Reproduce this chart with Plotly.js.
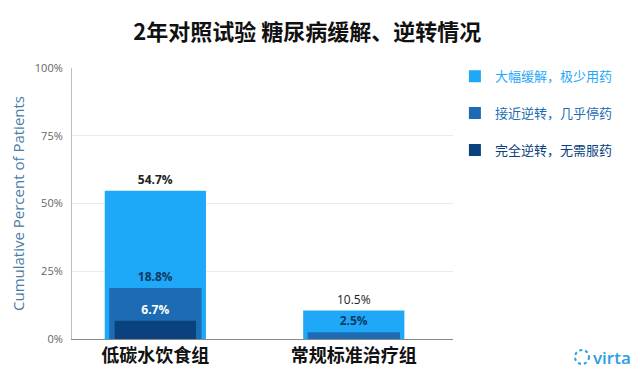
<!DOCTYPE html>
<html>
<head>
<meta charset="utf-8">
<script src="https://cdn.plot.ly/plotly-3.0.1.min.js"></script>
<style>html,body{margin:0;padding:0;background:#fff;}#chart{width:640px;height:377px;}</style>
</head>
<body>
<div id="chart"></div>
<script>
// Data
const categories = ['低碳水饮食组', '常规标准治疗组'];
const seriesNames = ['大幅缓解，极少用药', '接近逆转，几乎停药', '完全逆转，无需服药'];
const remission = [54.7, 10.5];
const nearReversal = [18.8, 2.5];
const fullReversal = [6.7, null];
const yTicks = [0, 25, 50, 75, 100];
const yTickLabels = ['0%', '25%', '50%', '75%', '100%'];

const colors = ['#1fa8f7', '#1d6cb3', '#0a4280'];
const textColors = ['#222222', '#0d3a66', '#ffffff'];
const widths = [0.51, 0.465, 0.41];
const xIdx = categories.map((c, i) => i);
const fmt = v => v == null ? '' : v.toFixed(1) + '%';

const font = '"Open Sans", "Noto Sans CJK SC", sans-serif';
const cjk = '"Noto Sans CJK SC", "Noto Sans", sans-serif';

const series = [remission, nearReversal, fullReversal];
const traces = series.map((vals, k) => ({
  type: 'bar',
  x: xIdx,
  y: vals,
  width: widths[k],
  name: '<span style="color:' + colors[k] + '">' + seriesNames[k] + '</span>',
  legendgroup: 'g' + k,
  marker: {color: colors[k], line: {width: 0}},
  text: vals.map(fmt),
  textposition: 'outside',
  cliponaxis: false,
  textfont: {family: font, size: 12, color: textColors[k], weight: k === 0 ? [700, 400] : 700},
  hoverinfo: 'skip'
}));

const layout = {
  width: 640, height: 377,
  margin: {l: 72, r: 187, t: 68, b: 38},
  paper_bgcolor: '#ffffff', plot_bgcolor: '#ffffff',
  barmode: 'overlay',
  showlegend: true,
  title: {
    text: '2年对照试验 糖尿病缓解、逆转情况',
    font: {family: cjk, size: 22, color: '#111111', weight: 700},
    x: 0.48, xanchor: 'center', y: 0.915, yanchor: 'middle'
  },
  xaxis: {
    range: [-0.42, 1.5],
    tickvals: xIdx, ticktext: categories,
    tickfont: {family: cjk, size: 18, color: '#111111', weight: 700},
    showgrid: false, zeroline: false,
    showline: true, linecolor: '#8a8a8a', linewidth: 1,
    ticks: '', fixedrange: true
  },
  yaxis: {
    range: [0, 100],
    tickvals: yTicks, ticktext: yTickLabels,
    tickfont: {family: font, size: 11, color: '#666666'},
    showgrid: true, gridcolor: '#ebebeb', gridwidth: 1,
    zeroline: false, showline: true, linecolor: '#bdbdbd', linewidth: 1,
    ticks: '', ticklabelstandoff: 6, automargin: true,
    title: {text: 'Cumulative Percent of Patients', font: {family: font, size: 15, color: '#4a7ba6'}, standoff: 6}
  },
  legend: {
    x: 1.005, xanchor: 'left', y: 1.025, yanchor: 'top',
    traceorder: 'grouped', tracegroupgap: 17,
    font: {family: cjk, size: 13, color: '#1fa8f7'},
    itemwidth: 30, bgcolor: 'rgba(0,0,0,0)'
  },
  shapes: [{
    type: 'circle', xref: 'paper', yref: 'paper',
    x0: (575 - 72) / 381, x1: (589 - 72) / 381,
    y0: (339 - 364) / 271, y1: (339 - 350) / 271,
    line: {color: '#2a9fe0', width: 2, dash: 'dot'}
  }],
  annotations: [{
    text: 'virta', xref: 'paper', yref: 'paper',
    x: (591 - 72) / 381, xanchor: 'left', y: (339 - 357) / 271, yanchor: 'middle',
    showarrow: false, font: {family: font, size: 17, color: '#2a9fe0', weight: 600}
  }]
};

Plotly.newPlot('chart', traces, layout, {displayModeBar: false, staticPlot: true});
</script>
</body>
</html>
